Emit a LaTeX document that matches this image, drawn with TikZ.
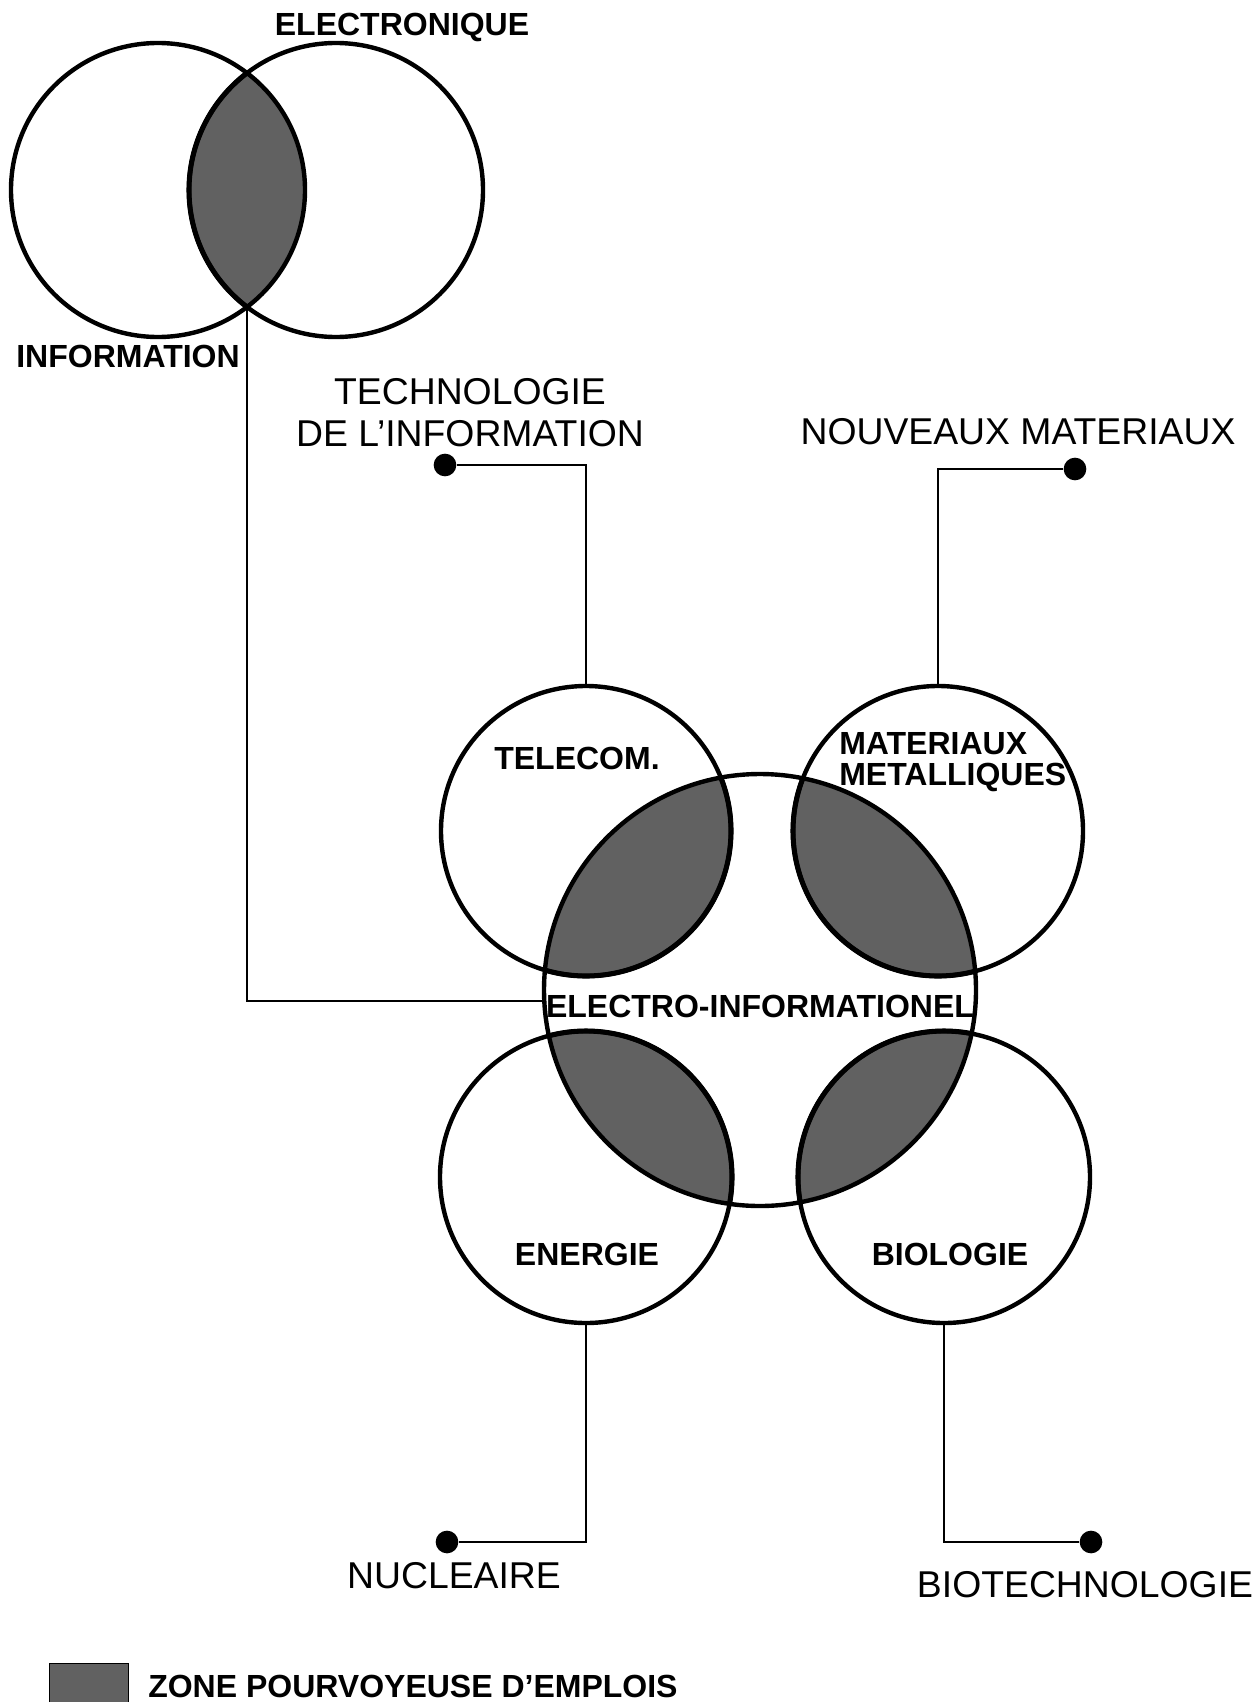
\documentclass[tikz,border=0pt]{standalone}
\usepackage{fontspec}
\setmainfont{Liberation Sans}
\usepackage{tikz}

\begin{document}
\begin{tikzpicture}[x=0.75pt,y=0.75pt,yscale=-1,xscale=1,
  ring/.style={line width=3.3pt},
  zone/.style={fill=black!62,draw=black,line width=3.8pt},
  link/.style={line width=1.6pt},
  dot/.style={circle,fill=black,inner sep=0pt,minimum size=17pt},
  tag/.style={inner sep=0.75pt,font=\fontsize{24}{23}\selectfont\bfseries},
  lbl/.style={inner sep=0.75pt,font=\fontsize{28}{31.5}\selectfont}]
\useasboundingbox (0,0) rectangle (1255,1702);

% shaded overlaps
\begin{scope}
\clip (158,190) circle (147);
\filldraw[zone] (336,190) circle (147);
\end{scope}
\begin{scope}
\clip (760,990) circle (216);
\filldraw[zone] (586,831) circle (145);
\filldraw[zone] (938,831) circle (145);
\filldraw[zone] (586,1177) circle (146);
\filldraw[zone] (944,1177) circle (146);
\end{scope}

% circles
\draw[ring] (158,190) circle (147);
\draw[ring] (336,190) circle (147);
\draw[ring] (586,831) circle (145);
\draw[ring] (938,831) circle (145);
\draw[ring] (760,990) circle (216);
\draw[ring] (586,1177) circle (146);
\draw[ring] (944,1177) circle (146);

\coordinate (vennbot) at (247,307);
\coordinate (elleft) at (544,1001);
\coordinate (teltop) at (586,686);
\coordinate (mattop) at (938,686);
\coordinate (enbot) at (586,1323);
\coordinate (biobot) at (944,1323);

\node[dot] (techdot) at (445,465) {};
\node[dot] (matdot) at (1075,469) {};
\node[dot] (nucdot) at (447,1542) {};
\node[dot] (biodot) at (1091,1542) {};

\draw[link] (vennbot) |- (elleft);
\draw[link] (techdot) -| (teltop);
\draw[link] (matdot) -| (mattop);
\draw[link] (enbot) |- (nucdot);
\draw[link] (biobot) |- (biodot);

\node[tag] (electronique) at (402,27) {ELECTRONIQUE};
\node[tag] (information) at (128,356) {INFORMATION};
\node[tag] (telecom) at (577,758) {TELECOM.};
\node[tag,anchor=west,align=left] (metal) at (838,762) {MATERIAUX\\METALLIQUES};
\node[tag] (electro) at (760,1006) {ELECTRO-INFORMATIONEL};
\node[tag] (energie) at (587,1254) {ENERGIE};
\node[tag] (biologie) at (950,1254) {BIOLOGIE};

\node[lbl,align=center] (techinfo) at (470,413) {TECHNOLOGIE\\DE L'INFORMATION};
\node[lbl] (nouveaux) at (1018,432) {NOUVEAUX MATERIAUX};
\node[lbl] (nucleaire) at (454,1576) {NUCLEAIRE};
\node[lbl] (biotech) at (1085,1585) {BIOTECHNOLOGIE};

% legend
\filldraw[zone,line width=0pt] (49,1663) rectangle (128,1702);
\node[tag,anchor=west] (legend) at (147,1686) {ZONE POURVOYEUSE D'EMPLOIS};
\end{tikzpicture}
\end{document}
